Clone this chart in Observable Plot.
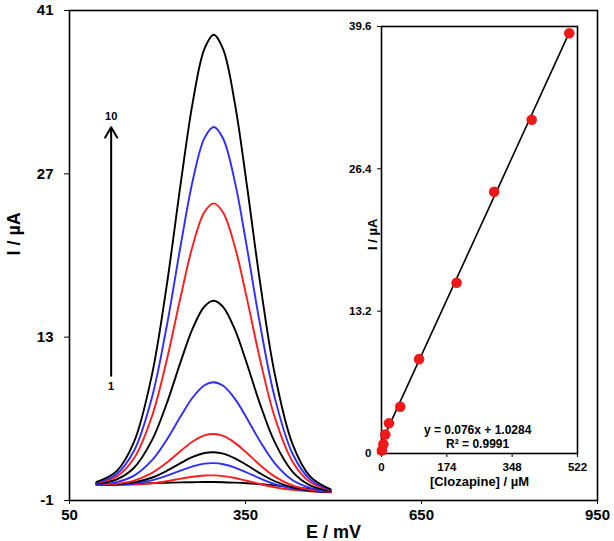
<!DOCTYPE html>
<html><head><meta charset="utf-8">
<script src="https://cdn.jsdelivr.net/npm/d3@7"></script>
<script src="https://cdn.jsdelivr.net/npm/@observablehq/plot@0.6"></script>
<style>
body{margin:0;background:#fff;}
#wrap{position:relative;width:614px;height:541px;}
#wrap svg{position:absolute;left:0;top:0;}
</style></head><body><div id="wrap"></div>
<script>
// Potential (mV) sample points along the DPV curves
const potential = [96,130,160,190,215,240,260,280,296,312,332,352,375,400,430,460,495];
// Current (µA) for curves 1..10
const curve1  = [0.42,0.42,0.44,0.48,0.52,0.55,0.57,0.58,0.58,0.57,0.53,0.48,0.40,0.30,0.15,0.00,-0.15];
const curve2  = [0.36,0.33,0.36,0.47,0.65,0.88,1.04,1.14,1.15,1.09,0.93,0.69,0.41,0.14,-0.08,-0.21,-0.29];
const curve3  = [0.36,0.36,0.46,0.73,1.11,1.58,1.93,2.16,2.20,2.11,1.82,1.40,0.89,0.41,0.03,-0.17,-0.29];
const curve4  = [0.37,0.39,0.55,0.95,1.52,2.22,2.73,3.07,3.14,3.02,2.61,2.04,1.32,0.65,0.13,-0.14,-0.28];
const curve5  = [0.38,0.44,0.70,1.34,2.21,3.27,4.06,4.58,4.70,4.53,3.94,3.09,2.03,1.05,0.29,-0.09,-0.27];
const curve6  = [0.41,0.58,1.13,2.41,4.15,6.26,7.83,8.88,9.14,8.83,7.71,6.08,4.06,2.19,0.75,0.07,-0.24];
const curve7  = [0.45,0.80,1.81,4.11,7.21,10.97,13.75,15.63,16.12,15.58,13.64,10.78,7.24,3.98,1.48,0.30,-0.19];
const curve8  = [0.51,1.05,2.62,6.14,10.87,16.59,20.84,23.72,24.47,23.67,20.73,16.41,11.05,6.11,2.35,0.58,-0.13];
const curve9  = [0.55,1.26,3.26,7.73,13.74,21.01,26.40,30.06,31.02,30.01,26.29,20.82,14.03,7.79,3.03,0.81,-0.09];
const curve10 = [0.60,1.50,4.02,9.65,17.19,26.33,33.11,37.71,38.92,37.66,33.00,26.15,17.64,9.81,3.85,1.07,-0.04];
const curves = [curve1,curve2,curve3,curve4,curve5,curve6,curve7,curve8,curve9,curve10];
const curveColors = ["#000000","#ff1c1c","#2e2eff","#000000","#ff1c1c","#2e2eff","#000000","#ff1c1c","#2e2eff","#000000"];

const xTicks = [50,350,650,950];
const yTicks = [-1,13,27,41];

// Annotation arrow (data units): from curve 1 to curve 10
const arrowAnno = [{E:121, from:9.7, to:31.0}];
const arrowLabels = [{E:121, I:31.9, t:"10"},{E:121, I:8.8, t:"1"}];

// Inset calibration data
const conc    = [1,5,10,20,50,100,200,300,400,500];
const current = [0.28,0.86,1.76,2.81,4.33,8.75,15.83,24.27,30.95,38.98];
const insetXTicks = [0,174,348,522];
const insetYTicks = [0,13.2,26.4,39.6];
const slope = 0.076, intercept = 1.0284;
const fitRange = [0,500];
const eqText = [{x:256, y:2.2, t:"y = 0.076x + 1.0284"},{x:256, y:0.9, t:"R² = 0.9991"}];

const font = "'Liberation Sans', Arial, sans-serif";

const rows = [];
curves.forEach((c,i)=>c.forEach((v,j)=>rows.push({E:potential[j], I:v, curve:i})));

const main = Plot.plot({
  width:614, height:541, marginLeft:69, marginRight:17, marginTop:10, marginBottom:41,
  style:{fontFamily:font, fontWeight:"bold", fontSize:"15px", color:"#000", background:"#fff"},
  x:{domain:[50,950]}, y:{domain:[-1,41]},
  marks:[
    ...curves.map((c,i)=>Plot.line(rows.filter(r=>r.curve===i),{x:"E",y:"I",stroke:curveColors[i],strokeWidth:1.9,curve:"catmull-rom"})),
    Plot.arrow(arrowAnno,{x1:"E",x2:"E",y1:"from",y2:"to",stroke:"#000",strokeWidth:2,headLength:9}),
    Plot.text(arrowLabels,{x:"E",y:"I",text:"t",fontSize:11}),
    Plot.axisX({ticks:xTicks, tickSize:4, tickPadding:5, label:null, tickFormat:d=>d}),
    Plot.axisY({ticks:yTicks, tickSize:5, tickPadding:11, label:null, tickFormat:d=>d}),
    Plot.frame({stroke:"#000", strokeWidth:1.6}),
    Plot.text(["E / mV"],{frameAnchor:"bottom", dy:37, fontSize:18}),
    Plot.text(["I / µA"],{frameAnchor:"left", rotate:-90, dx:-55, fontSize:18})
  ]
});

const fitRows = fitRange.map(x=>({x, y:slope*x+intercept}));
const points = conc.map((c,i)=>({c, i:current[i]}));

const inset = Plot.plot({
  width:614, height:541, marginLeft:381, marginRight:37, marginTop:26, marginBottom:88,
  style:{fontFamily:font, fontWeight:"bold", fontSize:"11.5px", color:"#000", background:"transparent"},
  x:{domain:[0,522]}, y:{domain:[0,39.6]},
  marks:[
    Plot.axisX({ticks:insetXTicks, tickSize:4, tickPadding:5, label:null, tickFormat:d=>d}),
    Plot.axisY({ticks:insetYTicks, tickSize:4, tickPadding:6, label:null, tickFormat:d=>d}),
    Plot.frame({stroke:"#000", strokeWidth:1.6}),
    Plot.line(fitRows,{x:"x",y:"y",stroke:"#000",strokeWidth:1.6}),
    Plot.dot(points,{x:"c",y:"i",r:5.3,fill:"#f01818"}),
    Plot.text(eqText,{x:"x",y:"y",text:"t",fontSize:12}),
    Plot.text(["[Clozapine] / µM"],{frameAnchor:"bottom", dy:32, fontSize:13}),
    Plot.text(["I / µA"],{frameAnchor:"left", rotate:-90, dx:-9, dy:10, fontSize:13})
  ]
});

const wrap = document.getElementById("wrap");
wrap.appendChild(main);
wrap.appendChild(inset);
inset.style.pointerEvents = "none";
</script>
</body></html>
